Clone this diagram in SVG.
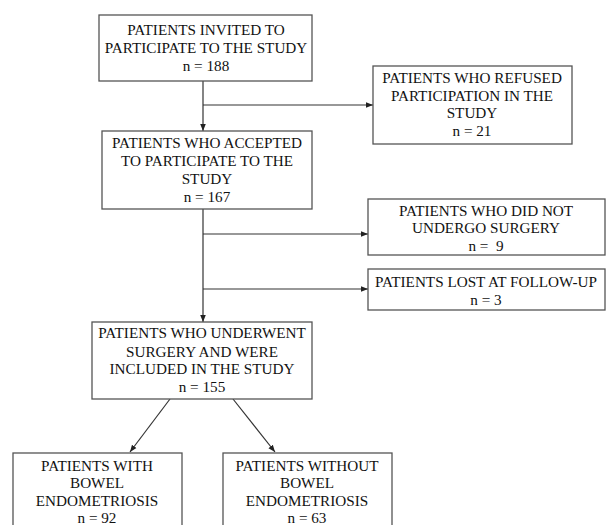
<svg xmlns="http://www.w3.org/2000/svg" width="606" height="525" viewBox="0 0 606 525">
<defs>
<style>
.box{fill:#fff;stroke:#555;stroke-width:1.3}
.t{font-family:"Liberation Serif","Times New Roman",serif;font-size:15.2px;fill:#111;text-anchor:middle}
.c{fill:none;stroke:#333;stroke-width:1.2}
</style>
<marker id="a" viewBox="0 0 10 10" refX="10" refY="5" markerWidth="7" markerHeight="7" markerUnits="userSpaceOnUse" orient="auto">
<path d="M0,1 L10,5 L0,9 z" fill="#222"/>
</marker>
</defs>
<rect width="606" height="525" fill="#fff"/>
<g id="connectors">
<line class="c" x1="203" y1="81" x2="203" y2="131" marker-end="url(#a)"/>
<line class="c" x1="203" y1="105" x2="373" y2="105" marker-end="url(#a)"/>
<line class="c" x1="203" y1="209" x2="203" y2="322" marker-end="url(#a)"/>
<line class="c" x1="203" y1="234" x2="368" y2="234" marker-end="url(#a)"/>
<line class="c" x1="203" y1="289" x2="368" y2="289" marker-end="url(#a)"/>
<line class="c" x1="170" y1="399" x2="130" y2="452" marker-end="url(#a)"/>
<line class="c" x1="233" y1="399" x2="275" y2="452" marker-end="url(#a)"/>
</g>
<g id="invited">
<rect class="box" x="99" y="15" width="213" height="66"/>
<text class="t" x="206" y="35">PATIENTS INVITED TO</text>
<text class="t" x="206" y="53">PARTICIPATE TO THE STUDY</text>
<text class="t" x="206" y="71">n = 188</text>
</g>
<g id="refused">
<rect class="box" x="373" y="66" width="199" height="78"/>
<text class="t" x="472" y="83">PATIENTS WHO REFUSED</text>
<text class="t" x="472" y="101">PARTICIPATION IN THE</text>
<text class="t" x="472" y="118">STUDY</text>
<text class="t" x="472" y="136">n = 21</text>
</g>
<g id="accepted">
<rect class="box" x="102" y="131" width="210" height="78"/>
<text class="t" x="207" y="148">PATIENTS WHO ACCEPTED</text>
<text class="t" x="207" y="166">TO PARTICIPATE TO THE</text>
<text class="t" x="207" y="184">STUDY</text>
<text class="t" x="207" y="202">n = 167</text>
</g>
<g id="nosurgery">
<rect class="box" x="368" y="199" width="237" height="56"/>
<text class="t" x="486" y="216">PATIENTS WHO DID NOT</text>
<text class="t" x="486" y="233">UNDERGO SURGERY</text>
<text class="t" x="486" y="251" xml:space="preserve">n =  9</text>
</g>
<g id="lost">
<rect class="box" x="368" y="269" width="237" height="41"/>
<text class="t" x="486" y="287">PATIENTS LOST AT FOLLOW-UP</text>
<text class="t" x="486" y="305">n = 3</text>
</g>
<g id="included">
<rect class="box" x="92" y="322" width="220" height="77"/>
<text class="t" x="202" y="338">PATIENTS WHO UNDERWENT</text>
<text class="t" x="202" y="357">SURGERY AND WERE</text>
<text class="t" x="202" y="374">INCLUDED IN THE STUDY</text>
<text class="t" x="202" y="392">n = 155</text>
</g>
<g id="withbowel">
<rect class="box" x="13" y="453" width="169" height="80"/>
<text class="t" x="97" y="471">PATIENTS WITH</text>
<text class="t" x="97" y="488">BOWEL</text>
<text class="t" x="97" y="506">ENDOMETRIOSIS</text>
<text class="t" x="97" y="523">n = 92</text>
</g>
<g id="withoutbowel">
<rect class="box" x="223" y="453" width="169" height="80"/>
<text class="t" x="307" y="471">PATIENTS WITHOUT</text>
<text class="t" x="307" y="488">BOWEL</text>
<text class="t" x="307" y="506">ENDOMETRIOSIS</text>
<text class="t" x="307" y="523">n = 63</text>
</g>
</svg>
